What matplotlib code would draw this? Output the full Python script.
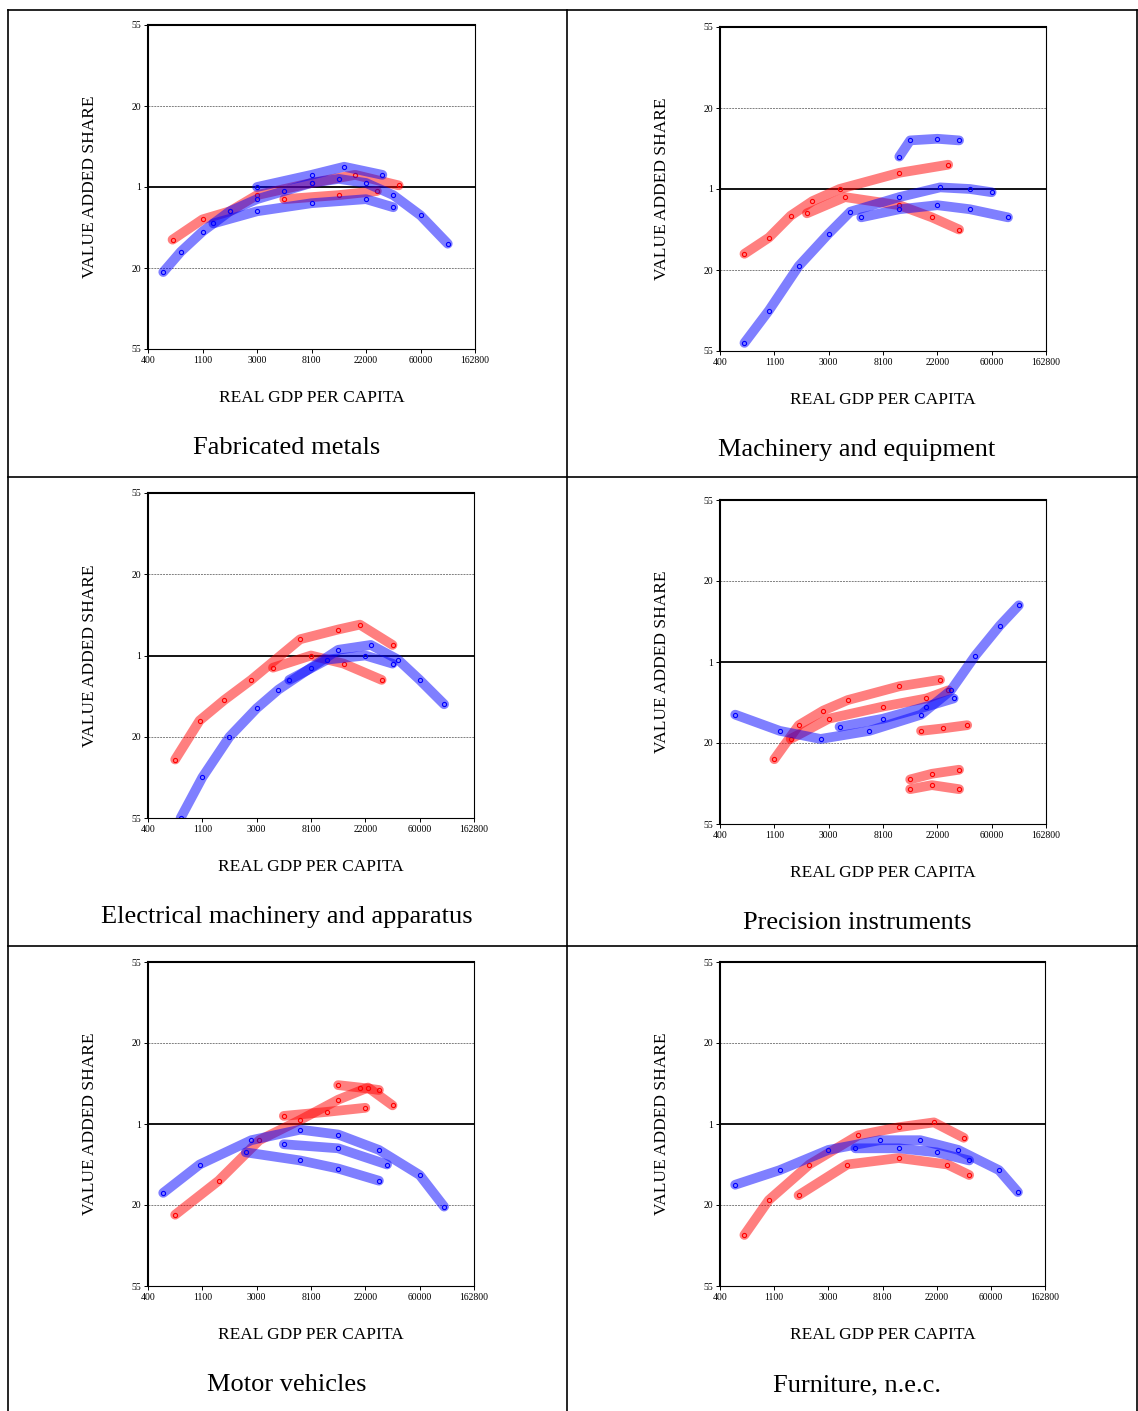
import numpy as np
import matplotlib.pyplot as plt
from matplotlib.lines import Line2D

# x in ln(real GDP per capita), y in transformed value-added share units
x_ticks = [6, 7, 8, 9, 10, 11, 12]
x_tick_labels = ['400', '1100', '3000', '8100', '22000', '60000', '162800']
y_ticks = [-2, -1, 0, 1, 2]
y_tick_labels = ['55', '20', '1', '20', '55']

titles = ['Fabricated metals', 'Machinery and equipment',
          'Electrical machinery and apparatus', 'Precision instruments',
          'Motor vehicles', 'Furniture, n.e.c.']

# traced point clouds, one list of (x, y) per band
fab_blue = [
    [(6.28, -1.05), (6.6, -0.8), (7.0, -0.55), (7.5, -0.3), (8.0, -0.15), (8.5, -0.05),
     (9.0, 0.05), (9.5, 0.1), (10.0, 0.05), (10.5, -0.1), (11.0, -0.35), (11.5, -0.7)],
    [(7.2, -0.45), (8.0, -0.3), (9.0, -0.2), (10.0, -0.15), (10.5, -0.25)],
    [(8.0, 0.0), (9.0, 0.15), (9.6, 0.25), (10.3, 0.15)],
]
fab_red = [
    [(6.45, -0.65), (7.0, -0.4), (7.5, -0.3), (8.0, -0.1), (9.0, 0.05), (9.8, 0.15), (10.6, 0.02)],
    [(8.5, -0.15), (9.5, -0.1), (10.2, -0.05)],
]
mach_blue = [
    [(6.45, -1.9), (6.9, -1.5), (7.45, -0.95), (8.0, -0.55), (8.4, -0.28), (9.3, -0.1),
     (10.05, 0.02), (10.6, 0.0), (11.0, -0.04)],
    [(8.6, -0.35), (9.3, -0.25), (10.0, -0.2), (10.6, -0.25), (11.3, -0.35)],
    [(9.3, 0.4), (9.5, 0.6), (10.0, 0.62), (10.4, 0.6)],
]
mach_red = [
    [(6.45, -0.8), (6.9, -0.6), (7.3, -0.33), (7.7, -0.15), (8.2, 0.0), (9.3, 0.2), (10.2, 0.3)],
    [(7.6, -0.3), (8.3, -0.1), (9.3, -0.2), (9.9, -0.35), (10.4, -0.5)],
]
elec_blue = [
    [(6.6, -2.0), (7.0, -1.5), (7.5, -1.0), (8.0, -0.65), (8.4, -0.42), (9.0, -0.15),
     (9.5, 0.07), (10.1, 0.13), (10.6, -0.05), (11.0, -0.3), (11.45, -0.6)],
    [(8.6, -0.3), (9.3, -0.05), (10.0, 0.0), (10.5, -0.1)],
]
elec_red = [
    [(6.5, -1.28), (6.95, -0.8), (7.4, -0.55), (7.9, -0.3), (8.8, 0.2), (9.5, 0.32),
     (9.9, 0.38), (10.5, 0.13)],
    [(8.3, -0.15), (9.0, 0.0), (9.6, -0.1), (10.3, -0.3)],
]
prec_blue = [
    [(6.28, -0.65), (7.1, -0.85), (7.85, -0.95), (8.75, -0.85), (9.7, -0.65), (10.25, -0.35),
     (10.7, 0.08), (11.15, 0.45), (11.5, 0.7)],
    [(8.2, -0.8), (9.0, -0.7), (9.8, -0.55), (10.3, -0.45)],
]
prec_red = [
    [(7.0, -1.2), (7.45, -0.78), (7.9, -0.6), (8.35, -0.47), (9.3, -0.3), (10.05, -0.22)],
    [(7.3, -0.95), (8.0, -0.7), (9.0, -0.55), (9.8, -0.45), (10.2, -0.35)],
    [(9.7, -0.85), (10.1, -0.82), (10.55, -0.78)],
    [(9.5, -1.45), (9.9, -1.38), (10.4, -1.33)],
    [(9.5, -1.57), (9.9, -1.52), (10.4, -1.57)],
]
motor_blue = [
    [(6.28, -0.85), (6.95, -0.5), (7.9, -0.2), (8.8, -0.07), (9.5, -0.13), (10.25, -0.32),
     (11.0, -0.63), (11.45, -1.02)],
    [(7.8, -0.35), (8.8, -0.45), (9.5, -0.55), (10.25, -0.7)],
    [(8.5, -0.25), (9.5, -0.3), (10.4, -0.5)],
]
motor_red = [
    [(6.5, -1.12), (7.3, -0.7), (8.05, -0.2), (8.8, 0.05), (9.5, 0.3), (10.05, 0.45), (10.5, 0.23)],
    [(9.5, 0.48), (9.9, 0.45), (10.25, 0.42)],
    [(8.5, 0.1), (9.3, 0.15), (10.0, 0.2)],
]
furn_blue = [
    [(6.28, -0.75), (7.1, -0.57), (8.0, -0.32), (8.95, -0.2), (9.7, -0.2), (10.4, -0.32),
     (11.15, -0.57), (11.5, -0.84)],
    [(8.5, -0.3), (9.3, -0.3), (10.0, -0.35), (10.6, -0.45)],
]
furn_red = [
    [(6.45, -1.37), (6.9, -0.94), (7.65, -0.5), (8.55, -0.14), (9.3, -0.04), (9.95, 0.02), (10.5, -0.17)],
    [(7.45, -0.88), (8.35, -0.5), (9.3, -0.42), (10.2, -0.5), (10.6, -0.63)],
]

panels = [(fab_blue, fab_red), (mach_blue, mach_red), (elec_blue, elec_red),
          (prec_blue, prec_red), (motor_blue, motor_red), (furn_blue, furn_red)]

W, H = 1138, 1411
# axes boxes in pixels: left, top, right, bottom
boxes = [(148, 25, 475, 349), (720, 27, 1046, 351), (148, 493, 474, 818),
         (720, 500, 1046, 824), (148, 962, 474, 1286), (720, 962, 1045, 1286)]

plt.rcParams['font.family'] = ['Liberation Serif', 'DejaVu Serif']
fig = plt.figure(figsize=(W / 100, H / 100), dpi=100)

# table borders
for xp in [8, 567, 1137]:
    fig.add_artist(Line2D([xp / W, xp / W], [0, 1 - 10 / H], color='black', lw=1.2))
for yp in [10, 477, 946]:
    fig.add_artist(Line2D([8 / W, 1137 / W], [1 - yp / H, 1 - yp / H], color='black', lw=1.2))

for i, (blue, red) in enumerate(panels):
    l, t, r, b = boxes[i]
    ax = fig.add_axes([l / W, 1 - b / H, (r - l) / W, (b - t) / H])
    ax.set_xlim(6, 12)
    ax.set_ylim(-2, 2)
    ax.axhline(0, color='black', lw=1.3)
    ax.axhline(1, color='gray', lw=0.7, ls=(0, (2, 1)))
    ax.axhline(-1, color='gray', lw=0.7, ls=(0, (2, 1)))
    for band in red:
        xs, ys = zip(*band)
        ax.plot(xs, ys, color='red', lw=7, alpha=0.5, solid_capstyle='round')
        ax.plot(xs, ys, 'o', mfc='none', mec='red', ms=3, mew=0.8)
    for band in blue:
        xs, ys = zip(*band)
        ax.plot(xs, ys, color='blue', lw=7, alpha=0.5, solid_capstyle='round')
        ax.plot(xs, ys, 'o', mfc='none', mec='blue', ms=3, mew=0.8)
    ax.set_xticks(x_ticks)
    ax.set_xticklabels(x_tick_labels, fontsize=7)
    ax.set_yticks(y_ticks)
    ax.set_yticklabels(y_tick_labels, fontsize=7)
    ax.tick_params(length=3, width=0.7, pad=2)
    for s in ax.spines.values():
        s.set_linewidth(0.8)
    ax.spines['top'].set_linewidth(1.5)
    ax.spines['left'].set_linewidth(1.5)
    ax.set_ylabel('VALUE ADDED SHARE', fontsize=12.5, labelpad=24)
    ax.set_xlabel('REAL GDP PER CAPITA', fontsize=12.5, labelpad=18)
    cx = 287 if i % 2 == 0 else 857
    fig.text(cx / W, 1 - (b + 99) / H, titles[i], ha='center', va='center', fontsize=19)

fig.savefig('out.png', dpi=100)
